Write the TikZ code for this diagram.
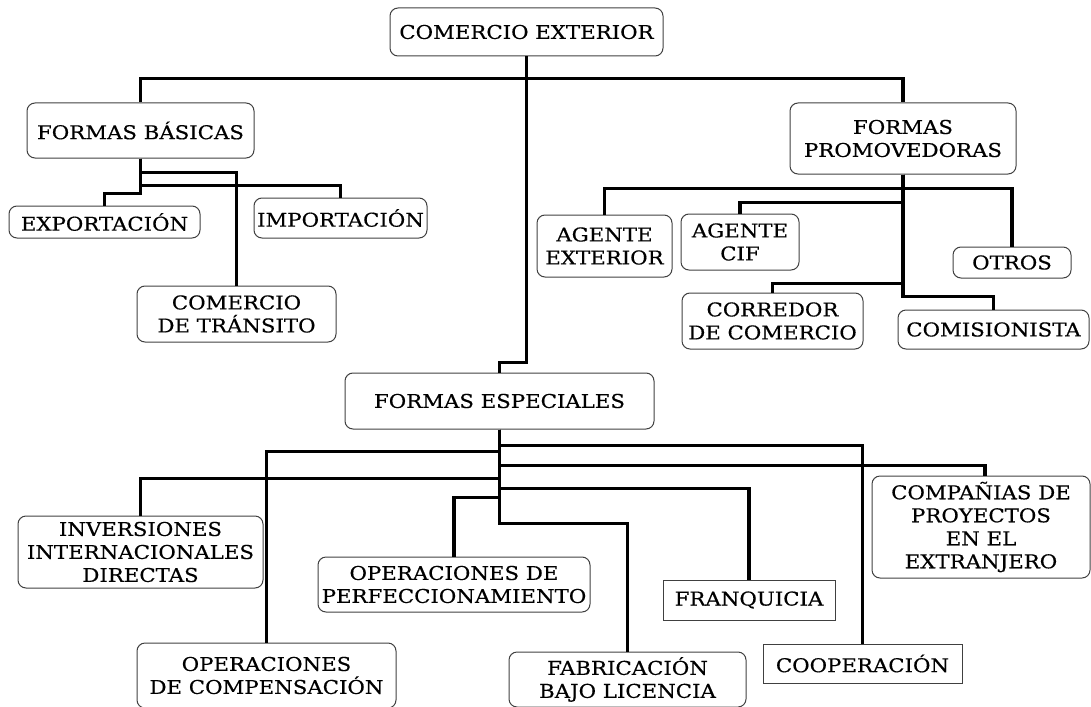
\documentclass[tikz,border=0pt]{standalone}
\usepackage{fontspec}
\setmainfont[FakeStretch=1.12,FakeBold=0.5]{DejaVu Serif}
\begin{document}
\begin{tikzpicture}[x=1pt,y=-1pt,
  bx/.style={draw=black!75, line width=1pt, rounded corners=8pt, align=center, inner sep=0pt,
    font=\fontsize{19}{23}\selectfont},
  sq/.style={bx, rounded corners=0pt},
  conn/.style={line width=3.3pt, line join=miter}]
\useasboundingbox (0,0) rectangle (1091,706);
\clip (0,0) rectangle (1091,706);
% top level
\node[bx, minimum width=273pt, minimum height=48pt] (ce) at (526.5,32) {COMERCIO EXTERIOR};
\node[bx, minimum width=227pt, minimum height=55pt] (fb) at (140.5,130.5) {FORMAS BÁSICAS};
\node[bx, minimum width=226pt, minimum height=71pt] (fp) at (903,138.5) {FORMAS\\PROMOVEDORAS};
\node[bx, minimum width=309pt, minimum height=56pt] (fe) at (499.5,401) {FORMAS ESPECIALES};
% basic forms
\node[bx, minimum width=191pt, minimum height=32pt] (exp) at (104.5,222) {EXPORTACIÓN};
\node[bx, minimum width=173pt, minimum height=40pt] (imp) at (340.5,218) {IMPORTACIÓN};
\node[bx, minimum width=199pt, minimum height=56pt] (tra) at (236.5,314) {COMERCIO\\DE TRÁNSITO};
% promoting forms
\node[bx, minimum width=135pt, minimum height=62pt] (aext) at (604.5,246) {AGENTE\\EXTERIOR};
\node[bx, minimum width=118pt, minimum height=56pt] (acif) at (740,242) {AGENTE\\CIF};
\node[bx, minimum width=118pt, minimum height=31pt] (otros) at (1012,262.5) {OTROS};
\node[bx, minimum width=181pt, minimum height=56pt] (corr) at (772.5,321) {CORREDOR\\DE COMERCIO};
\node[bx, minimum width=191pt, minimum height=39pt] (comis) at (993.5,329.5) {COMISIONISTA};
% special forms
\node[bx, minimum width=245pt, minimum height=72pt] (inv) at (140.5,552) {INVERSIONES\\INTERNACIONALES\\DIRECTAS};
\node[bx, minimum width=272pt, minimum height=55pt] (opperf) at (454,584.5) {OPERACIONES DE\\PERFECCIONAMIENTO};
\node[bx, minimum width=259pt, minimum height=65pt] (opcomp) at (266.5,675.5) {OPERACIONES\\DE COMPENSACIÓN};
\node[bx, minimum width=237pt, minimum height=55pt] (fab) at (627.5,679.5) {FABRICACIÓN\\BAJO LICENCIA};
\node[sq, minimum width=172pt, minimum height=40pt] (fran) at (749,600) {FRANQUICIA};
\node[sq, minimum width=199pt, minimum height=39pt] (coop) at (862.5,663.5) {COOPERACIÓN};
\node[bx, minimum width=218pt, minimum height=102pt] (comp) at (981,527) {COMPAÑIAS DE\\PROYECTOS\\EN EL\\EXTRANJERO};
% connectors: top
\draw[conn] (ce.south) -- ++(0,22) -| (fb.north);
\draw[conn] (ce.south) -- ++(0,22) -| (fp.north);
\draw[conn] (ce.south) -- ++(0,306) -| (fe.north);
% basic
\draw[conn] (fb.south) -- ++(0,14) -| (tra.north);
\draw[conn] (fb.south) -- ++(0,27) -| (imp.north);
\draw[conn] (fb.south) -- ++(0,35) -| (exp.north);
% promoting
\draw[conn] (fp.south) -- ++(0,14) -| (aext.north);
\draw[conn] (fp.south) -- ++(0,14) -| (otros.north);
\draw[conn] (fp.south) -- ++(0,28) -| (acif.north);
\draw[conn] (fp.south) -- ++(0,109) -| (corr.north);
\draw[conn] (fp.south) -- ++(0,122) -| (comis.north);
% special
\draw[conn] (fe.south) -- ++(0,16) -| (coop.north);
\draw[conn] (fe.south) -- ++(0,22) -| (opcomp.north);
\draw[conn] (fe.south) -- ++(0,36) -| ([xshift=4pt]comp.north);
\draw[conn] (fe.south) -- ++(0,49) -| (inv.north);
\draw[conn] (fe.south) -- ++(0,59) -| (fran.north);
\draw[conn] (fe.south) -- ++(0,68) -| (opperf.north);
\draw[conn] (fe.south) -- ++(0,94) -| (fab.north);
\end{tikzpicture}
\end{document}
